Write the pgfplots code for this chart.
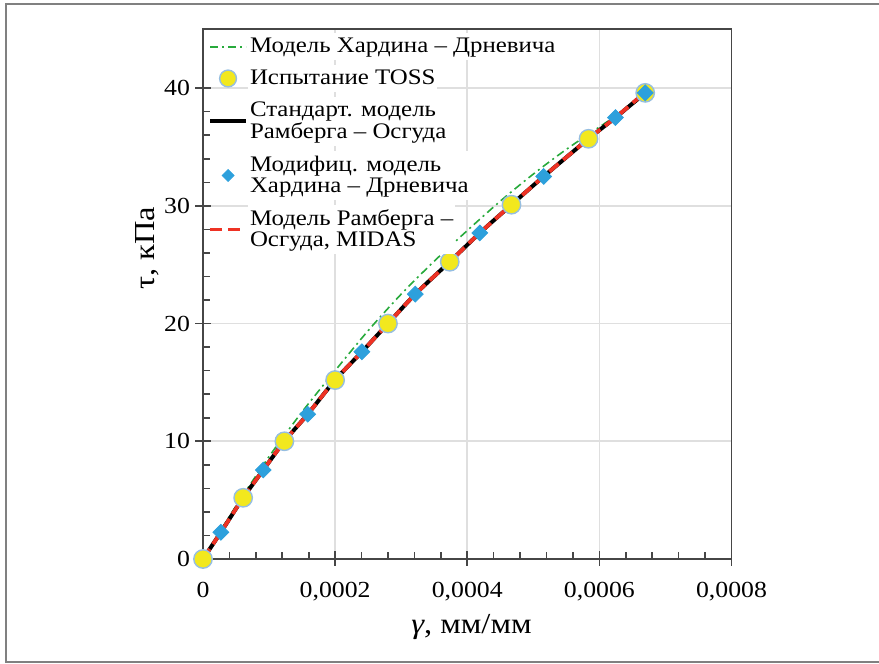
\documentclass[border=0pt]{standalone}
\usepackage{fontspec}
\setmainfont{Liberation Serif}[FakeStretch=1.12]
\usepackage{pgfplots}
\pgfplotsset{compat=1.18}
\definecolor{tossY}{RGB}{242,232,30}
\definecolor{tossB}{RGB}{150,190,225}
\definecolor{dblue}{RGB}{45,160,220}
\definecolor{rred}{RGB}{238,50,36}
\definecolor{ggreen}{RGB}{40,170,60}
\definecolor{axgray}{RGB}{70,70,70}
\definecolor{frgray}{RGB}{128,128,128}
\begin{document}
\begin{tikzpicture}
\path[use as bounding box] (0,0) rectangle (439.5pt,332pt);
\draw[frgray, line width=1pt] (440pt,329.75pt) -- (3pt,329.75pt) -- (3pt,0.85pt) -- (440pt,0.85pt);
\begin{axis}[
  at={(101.5pt,52.5pt)}, anchor=south west,
  scale only axis, width=264.25pt, height=264.85pt,
  xmin=0, xmax=0.0008, ymin=0, ymax=45,
  clip=false,
  scaled x ticks=false, scaled y ticks=false,
  axis line style={axgray, line width=0.9pt},
  xtick={0,0.0002,0.0004,0.0006,0.0008},
  xticklabels={0,{0,0002},{0,0004},{0,0006},{0,0008}},
  ytick={0,10,20,30,40},
  yticklabels={0,10,20,30,40},
  minor x tick num=4, minor y tick num=4,
  tick align=inside,
  major tick length=4pt, minor tick length=3.5pt,
  tick style={axgray, line width=0.8pt},
  extra x ticks={0,0.0002,0.0004,0.0006,0.0008},
  extra x tick labels={},
  extra x tick style={grid=none, tick align=outside, major tick length=3.5pt},
  extra y ticks={0,10,20,30,40},
  extra y tick labels={},
  extra y tick style={grid=none, tick align=outside, major tick length=4pt},
  xtick pos=bottom, ytick pos=left,
  grid=major,
  major grid style={gray!25, line width=0.8pt},
  ticklabel style={font=\fontsize{11.5}{13}\selectfont},
  xticklabel style={yshift=-8pt},
  yticklabel style={xshift=-3pt},
  xlabel={\textit{γ}, мм/мм},
  ylabel={τ, кПа},
  xlabel style={at={(axis description cs:0.508,-0.128)}, anchor=center, font=\fontsize{14.5}{16}\selectfont},
  ylabel style={at={(axis description cs:-0.106,0.587)}, anchor=center, font=\fontsize{14.5}{16}\selectfont},
  legend style={at={(axis description cs:0.005,0.997)}, anchor=north west,
    draw=none, fill=none, inner sep=1pt, row sep=2.2pt,
    font=\fontsize{11.1}{9.6}\selectfont,
    nodes={inner xsep=1pt, inner ysep=2.4pt, align=left, fill=white}},
  legend cell align=left,
  legend image code/.code={\draw[#1] (0pt,0pt) -- (18pt,0pt);},
]
% TOSS test points
\addplot[forget plot, only marks, mark=*, mark size=4.6pt,
  mark options={fill=tossY, draw=tossB, line width=0.7pt}] coordinates {
(0,0) (0.0000608,5.2) (0.0001232,10.0) (0.0002,15.2) (0.00028,20.0)
(0.0003735,25.25) (0.000467,30.1) (0.0005836,35.7) (0.0006694,39.6)};
% Hardin-Drnevich model
\addplot[forget plot, ggreen, line width=0.8pt, dash pattern=on 4pt off 2pt on 1pt off 2pt, smooth] coordinates {
(0,0) (0.00005,4.5) (0.0001,8.7) (0.00015,12.5) (0.0002,16.0) (0.00025,19.4)
(0.0003,22.5) (0.00035,25.3) (0.0004,27.9) (0.00045,30.4) (0.0005,32.7)
(0.00055,34.8) (0.0006,36.7) (0.00065,38.6) (0.000668,39.4)};
% Standard Ramberg-Osgood
\addplot[forget plot, black, line width=2pt, smooth] coordinates {
(0,0) (0.000027,2.27) (0.0000608,5.2) (0.0000912,7.56) (0.0001232,10.0)
(0.0001585,12.3) (0.0002,15.2) (0.0002405,17.6) (0.00028,20.0) (0.0003214,22.5)
(0.0003735,25.25) (0.000419,27.7) (0.000467,30.1) (0.0005157,32.5)
(0.0005836,35.7) (0.0006243,37.5) (0.0006694,39.6)};
% Modified Hardin-Drnevich
\addplot[forget plot, only marks, mark=square*, mark size=2.8pt,
  mark options={fill=dblue, draw=dblue, rotate=45}] coordinates {
(0.000027,2.27) (0.0000912,7.56) (0.0001585,12.3) (0.0002405,17.6)
(0.0003214,22.5) (0.000419,27.7) (0.0005157,32.5) (0.0006243,37.5) (0.0006694,39.6)};
% Ramberg-Osgood MIDAS
\addplot[forget plot, rred, line width=1.9pt, dash pattern=on 6pt off 3pt, smooth] coordinates {
(0,0) (0.000027,2.27) (0.0000608,5.2) (0.0000912,7.56) (0.0001232,10.0)
(0.0001585,12.3) (0.0002,15.2) (0.0002405,17.6) (0.00028,20.0) (0.0003214,22.5)
(0.0003735,25.25) (0.000419,27.7) (0.000467,30.1) (0.0005157,32.5)
(0.0005836,35.7) (0.0006243,37.5) (0.000662,39.3)};
% legend
\addlegendimage{ggreen, line width=0.8pt, dash pattern=on 4pt off 2pt on 1pt off 2pt}
\addlegendentry{Модель Хардина – Дрневича}
\addlegendimage{legend image code/.code={\draw[fill=tossY, draw=tossB, line width=0.7pt] (9pt,0pt) circle (4.2pt);}}
\addlegendentry{Испытание TOSS}
\addlegendimage{black, line width=2pt}
\addlegendentry{{Стандарт. модель\\Рамберга – Осгуда}}
\addlegendimage{legend image code/.code={\fill[dblue, rotate around={45:(9pt,0pt)}] (6.9pt,-2.1pt) rectangle (11.1pt,2.1pt);}}
\addlegendentry{{Модифиц. модель\\Хардина – Дрневича}}
\addlegendimage{rred, line width=1.9pt, dash pattern=on 6pt off 3pt}
\addlegendentry{{Модель Рамберга –\\Осгуда, MIDAS}}
\end{axis}
\end{tikzpicture}
\end{document}
